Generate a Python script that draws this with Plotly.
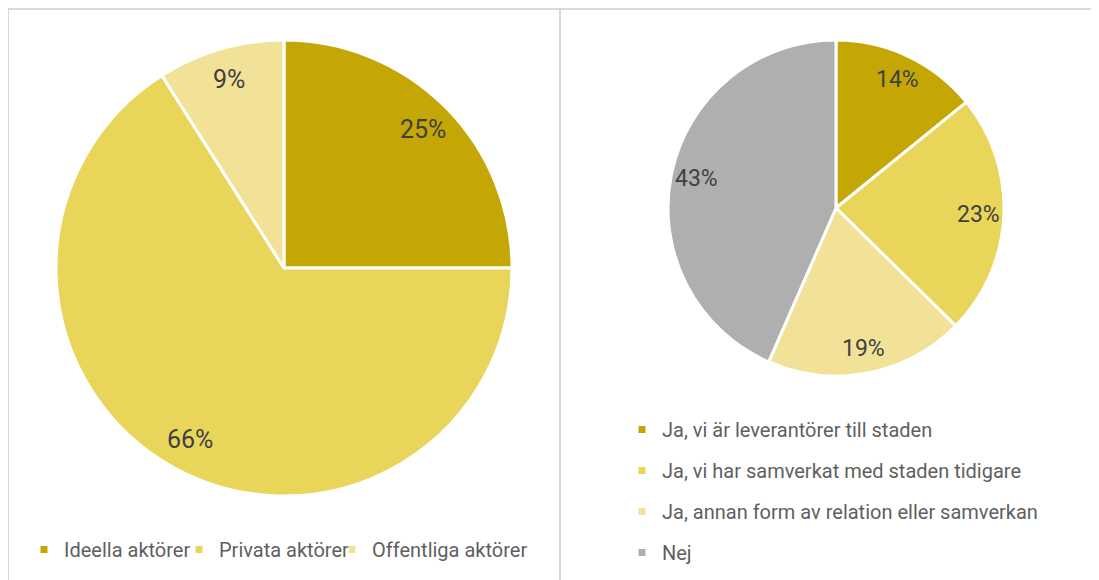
import math
import plotly.graph_objects as go

# ---- data ----
left_labels = ["Ideella aktörer", "Privata aktörer", "Offentliga aktörer"]
left_values = [25, 66, 9]
right_labels = [
    "Ja, vi är leverantörer till staden",
    "Ja, vi har samverkat med staden tidigare",
    "Ja, annan form av relation eller samverkan",
    "Nej",
]
right_values = [14, 23, 19, 43]

left_colors = ["#C4A704", "#E9D55A", "#F2E298"]
right_colors = ["#C4A704", "#E9D55A", "#F2E298", "#AFAFAF"]

# page body has an 8px margin; the figure fills the rest of the 1099x580 window
W, H = 1091, 572
FONT = "Roboto, Liberation Sans, sans-serif"
LABEL_COLOR = "#404040"
LEGEND_COLOR = "#5f5f5f"

left_dom = dict(x=[48 / W, 504 / W], y=[84 / H, 540 / H])
right_dom = dict(x=[660 / W, 996 / W], y=[204 / H, 540 / H])

fig = go.Figure()
fig.add_trace(go.Pie(
    labels=left_labels, values=left_values, sort=False, direction="clockwise",
    rotation=0, domain=left_dom, textinfo="none", hoverinfo="label+percent",
    marker=dict(colors=left_colors, line=dict(color="white", width=3)),
    showlegend=False,
))
fig.add_trace(go.Pie(
    labels=right_labels, values=right_values, sort=False, direction="clockwise",
    rotation=0, domain=right_dom, textinfo="none", hoverinfo="label+percent",
    marker=dict(colors=right_colors, line=dict(color="white", width=3)),
    showlegend=False,
))

# legend entries (small square keys, as in the reference)
left_entry_widths = [110, 108, 170]
for lab, col, ew in zip(left_labels, left_colors, left_entry_widths):
    fig.add_trace(go.Scatter(
        x=[None], y=[None], mode="markers", name=lab,
        marker=dict(symbol="square", size=7, color=col),
        legend="legend", legendwidth=ew, hoverinfo="skip",
    ))
for i, (lab, col) in enumerate(zip(right_labels, right_colors)):
    fig.add_trace(go.Scatter(
        x=[None], y=[None], mode="markers", name=lab,
        marker=dict(symbol="square", size=7, color=col),
        legend="legend2", legendgroup=f"g{i}", hoverinfo="skip",
    ))


def pct_labels(values, dom, k, size):
    x0, x1 = dom["x"][0] * W, dom["x"][1] * W
    y0, y1 = dom["y"][0] * H, dom["y"][1] * H
    cx, cy = (x0 + x1) / 2, (y0 + y1) / 2
    r = min(x1 - x0, y1 - y0) / 2
    total = sum(values)
    cum = 0
    anns = []
    for v in values:
        th = 2 * math.pi * (cum + v / 2) / total
        cum += v
        px = cx + k * r * math.sin(th)
        py = cy + k * r * math.cos(th)
        anns.append(dict(
            x=px / W, y=py / H, xref="paper", yref="paper",
            text=f"{round(100 * v / total)}%", showarrow=False,
            font=dict(family=FONT, size=size, color=LABEL_COLOR),
            xanchor="center", yanchor="middle",
        ))
    return anns


annotations = pct_labels(left_values, left_dom, 0.86, 25) + pct_labels(right_values, right_dom, 0.85, 23)

border = dict(color="#D9D9D9", width=2)
shapes = [
    dict(type="line", xref="paper", yref="paper", x0=0, x1=1, y0=1 - 1 / H, y1=1 - 1 / H, line=border),
    dict(type="line", xref="paper", yref="paper", x0=0, x1=0, y0=0, y1=1 - 1 / H, line=border),
    dict(type="line", xref="paper", yref="paper", x0=552 / W, x1=552 / W, y0=0, y1=1 - 1 / H, line=border),
]

fig.update_layout(
    width=W, height=H,
    margin=dict(l=0, r=0, t=0, b=0),
    paper_bgcolor="white", plot_bgcolor="white",
    font=dict(family=FONT, color=LEGEND_COLOR),
    showlegend=True,
    hovermode=False,
    xaxis=dict(visible=False, fixedrange=True),
    yaxis=dict(visible=False, fixedrange=True),
    legend=dict(
        orientation="h", x=16 / W, y=1 - 522 / H, xanchor="left", yanchor="top",
        font=dict(family=FONT, size=20, color=LEGEND_COLOR),
        bgcolor="rgba(0,0,0,0)", itemclick=False, itemdoubleclick=False,
    ),
    legend2=dict(
        orientation="v", x=614 / W, y=1 - 402 / H, xanchor="left", yanchor="top",
        font=dict(family=FONT, size=20, color=LEGEND_COLOR),
        tracegroupgap=12, bgcolor="rgba(0,0,0,0)",
        itemclick=False, itemdoubleclick=False,
    ),
    annotations=annotations,
    shapes=shapes,
)

fig.write_html("out.html")
